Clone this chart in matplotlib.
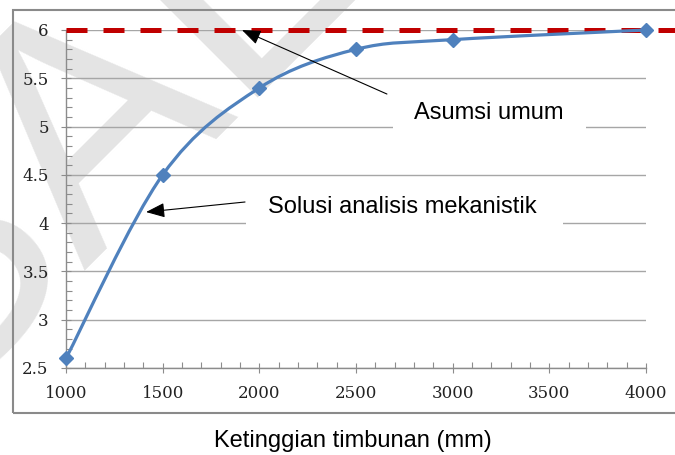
import numpy as np
import matplotlib
matplotlib.use('Agg')
import matplotlib.pyplot as plt
from matplotlib.path import Path
from matplotlib.patches import PathPatch, Rectangle
from matplotlib.ticker import MultipleLocator

# data
tinggi = [1000, 1500, 2000, 2500, 3000, 4000]
solusi = [2.6, 4.5, 5.4, 5.8, 5.9, 6.0]
asumsi_x = [1000, 4150]
asumsi_y = [6.0, 6.0]

BLUE = '#4f81bd'
RED = '#c00000'
GRID = '#a6a6a6'

fig = plt.figure(figsize=(6.75, 4.55), dpi=100)

# watermark (behind everything)
fig.text(-74 / 675, 1 - 415 / 455, 'SALINAN', fontsize=236, color='#e4e4e4',
         rotation=45, rotation_mode='anchor', ha='left', va='baseline',
         family='Liberation Sans', zorder=-10)

# chart border
fig.patches.append(Rectangle((13 / 675, 1 - 413 / 455), 1.0, (413 - 10) / 455,
                             transform=fig.transFigure, fill=False,
                             edgecolor='#8a8a8a', lw=1.5, clip_on=False, zorder=1))

ax = fig.add_axes([66 / 675, 1 - 368 / 455, 580 / 675, 338 / 455])
ax.patch.set_alpha(0)
ax.set_xlim(1000, 4000)
ax.set_ylim(2.5, 6)

ax.xaxis.set_major_locator(MultipleLocator(500))
ax.xaxis.set_minor_locator(MultipleLocator(100))
ax.yaxis.set_major_locator(MultipleLocator(0.5))
ax.yaxis.set_minor_locator(MultipleLocator(0.1))
ax.yaxis.set_major_formatter(plt.FuncFormatter(lambda v, p: f'{v:g}'))

ax.grid(True, which='major', axis='y', color=GRID, lw=1.0, zorder=0)
ax.set_axisbelow(True)
for s in ['top', 'right']:
    ax.spines[s].set_visible(False)
for s in ['left', 'bottom']:
    ax.spines[s].set_color('#8c8c8c')
    ax.spines[s].set_linewidth(1.0)

ax.tick_params(which='major', direction='inout', length=7, width=0.8,
               color='#8c8c8c', labelsize=12, pad=9,
               labelfontfamily='DejaVu Serif', labelcolor='#222222')
ax.tick_params(which='minor', direction='in', length=4, width=0.8, color='#8c8c8c')

# white boxes behind labels (hide gridlines)
ax.add_patch(Rectangle((2690, 4.86), 1000, 0.54, facecolor='white',
                       edgecolor='none', zorder=1))
ax.add_patch(Rectangle((1930, 3.83), 1640, 0.56, facecolor='white',
                       edgecolor='none', zorder=1))

# red dashed line (asumsi umum)
ax.plot(asumsi_x, asumsi_y, color=RED, lw=3.6, dashes=(4.2, 3.2),
        solid_capstyle='butt', dash_capstyle='butt', clip_on=False, zorder=3)

# smoothed blue curve (Catmull-Rom style bezier through the points)
px = np.array(tinggi, dtype=float)
py = np.array(solusi, dtype=float)
pts = np.column_stack([px, py])
ext = np.vstack([pts[0], pts, pts[-1]])
verts = [tuple(pts[0])]
codes = [Path.MOVETO]
for i in range(len(pts) - 1):
    p0, p1, p2, p3 = ext[i], ext[i + 1], ext[i + 2], ext[i + 3]
    c1 = p1 + (p2 - p0) / 6.0
    c2 = p2 - (p3 - p1) / 6.0
    verts += [tuple(c1), tuple(c2), tuple(p2)]
    codes += [Path.CURVE4] * 3
ax.add_patch(PathPatch(Path(verts, codes), facecolor='none', edgecolor=BLUE,
                       lw=2.3, zorder=4, clip_on=False))
ax.plot(tinggi, solusi, linestyle='none', marker='D', ms=7.5, color=BLUE,
        clip_on=False, zorder=5)

# annotations
arrow = dict(arrowstyle='-|>,head_length=1.15,head_width=0.45', color='black',
             lw=0.8, shrinkA=0, shrinkB=0)
ax.annotate('', xy=(1910, 6.0), xytext=(2660, 5.337), arrowprops=arrow, zorder=6)
ax.annotate('', xy=(1414, 4.115), xytext=(1926, 4.219), arrowprops=arrow, zorder=6)

fig.text(489 / 675, 1 - 119 / 455, 'Asumsi umum', fontsize=17,
         family='Liberation Sans', ha='center', va='baseline', zorder=7)
fig.text(268 / 675, 1 - 213 / 455, 'Solusi analisis mekanistik', fontsize=17,
         family='Liberation Sans', ha='left', va='baseline', zorder=7)
fig.text(353 / 675, 1 - 447 / 455, 'Ketinggian timbunan (mm)', fontsize=17,
         family='Liberation Sans', ha='center', va='baseline')

fig.savefig('out.png', dpi=100)
